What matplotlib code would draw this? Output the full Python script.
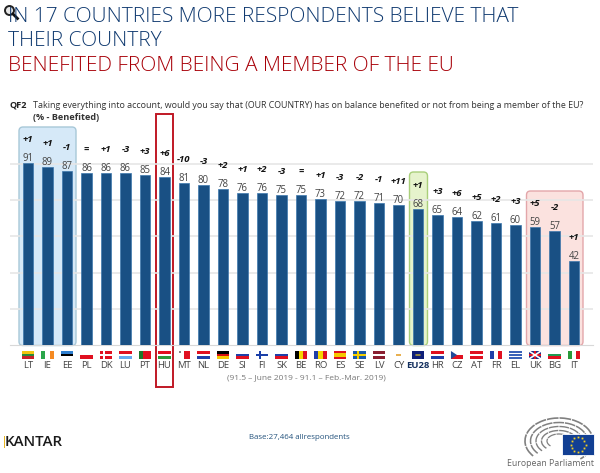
import matplotlib
matplotlib.use('Agg')
import matplotlib.pyplot as plt
from matplotlib.patches import FancyBboxPatch, Rectangle, Arc, Polygon, Circle
import numpy as np

plt.rcParams['font.family'] = ['Open Sans', 'DejaVu Sans']

countries = ['LT', 'IE', 'EE', 'PL', 'DK', 'LU', 'PT', 'HU', 'MT', 'NL', 'DE', 'SI', 'FI', 'SK', 'BE',
             'RO', 'ES', 'SE', 'LV', 'CY', 'EU28', 'HR', 'CZ', 'AT', 'FR', 'EL', 'UK', 'BG', 'IT']
benefited = [91, 89, 87, 86, 86, 86, 85, 84, 81, 80, 78, 76, 76, 75, 75,
             73, 72, 72, 71, 70, 68, 65, 64, 62, 61, 60, 59, 57, 42]
changes = ['+1', '+1', '-1', '=', '+1', '-3', '+3', '+6', '-10', '-3', '+2', '+1', '+2', '-3', '=',
           '+1', '-3', '-2', '-1', '+11', '+1', '+3', '+6', '+5', '+2', '+3', '+5', '-2', '+1']
grid_values = [18.1, 36.2, 54.3, 72.4, 90.5]

RED, WHITE, BLUE, GREEN = '#e01020', '#ffffff', '#1f3fa8', '#2a9a3a'
flags = {
    'LT': ('h', ['#f2c40f', '#2a8a3a', '#c8202a']), 'IE': ('v', ['#2aa64a', WHITE, '#f58a22']),
    'EE': ('h', ['#2f7fd0', '#000000', WHITE]), 'PL': ('h', [WHITE, RED]),
    'DK': ('h', [RED]), 'LU': ('h', [RED, WHITE, '#66aaee']), 'PT': ('v', ['#1a7a2a', RED, RED]),
    'HU': ('h', [RED, WHITE, GREEN]), 'MT': ('v', [WHITE, RED]), 'NL': ('h', [RED, WHITE, BLUE]),
    'DE': ('h', ['#000000', '#d81010', '#f5c800']), 'SI': ('h', [WHITE, BLUE, RED]),
    'FI': ('h', [WHITE]), 'SK': ('h', [WHITE, BLUE, RED]), 'BE': ('v', ['#000000', '#f5d800', RED]),
    'RO': ('v', [BLUE, '#f5d800', RED]), 'ES': ('h', [RED, '#f5c800', '#f5c800', RED]),
    'SE': ('h', ['#1a5aa8']), 'LV': ('h', ['#8a1f30', '#8a1f30', WHITE, '#8a1f30', '#8a1f30']),
    'CY': ('h', [WHITE]), 'EU28': ('h', ['#0f1f78']), 'HR': ('h', [RED, WHITE, BLUE]),
    'CZ': ('h', [WHITE, RED]), 'AT': ('h', [RED, WHITE, RED]), 'FR': ('v', [BLUE, WHITE, RED]),
    'EL': ('h', ['#3a62b8', WHITE, '#3a62b8', WHITE, '#3a62b8']), 'UK': ('h', ['#1f2f88']),
    'BG': ('h', [WHITE, '#1f9a50', RED]), 'IT': ('v', [GREEN, WHITE, RED]),
}
crosses = {'DK': WHITE, 'FI': '#1a3fa8', 'SE': '#f5d000'}

fig = plt.figure(figsize=(6, 4.73), dpi=100, facecolor='white')

# pixel coordinate layer for boxes and page furniture
bg = fig.add_axes([0, 0, 1, 1])
bg.set_xlim(0, 600)
bg.set_ylim(473, 0)
bg.axis('off')


def box(x0, y0, x1, y1, face, edge):
    bg.add_patch(FancyBboxPatch((x0 + 3, y0 + 3), x1 - x0 - 6, y1 - y0 - 6, boxstyle='round,pad=3,rounding_size=4',
                                fc=face, ec=edge, lw=1.0))


box(19, 127, 76, 345.5, '#d6e9f8', '#a8c8d8')
box(409.5, 172, 427.5, 345.5, '#e6f3cc', '#a9cf7a')
box(526.5, 191, 583, 345.5, '#fbe2df', '#e3a6aa')

# title block
bg.text(8, 22.5, 'IN 17 COUNTRIES MORE RESPONDENTS BELIEVE THAT', fontsize=15, color='#103a70', weight='light', va='baseline', ha='left')
bg.text(8, 46.5, 'THEIR COUNTRY', fontsize=15, color='#103a70', weight='light', va='baseline', ha='left')
bg.text(8, 71, 'BENEFITED FROM BEING A MEMBER OF THE EU', fontsize=15, color='#a80008', weight='light', va='baseline', ha='left')

# magnifier over the first letter
bg.add_patch(Rectangle((3, 3), 14, 18, fc='white', ec='none'))
bg.add_patch(Circle((9.5, 10.5), 4.5, fc='#e8e8e8', ec='#222222', lw=1.4))
bg.plot([13, 17.5], [14, 18.5], color='#111111', lw=2)

bg.text(9, 105, 'QF2', fontsize=6.6, weight='bold', color='#222222', va='center')
bg.text(33, 105, 'Taking everything into account, would you say that (OUR COUNTRY) has on balance benefited or not from being a member of the EU?',
        fontsize=6.37, color='#333333', va='center')
bg.text(33, 117, '(% - Benefited)', fontsize=6.6, weight='bold', color='#333333', va='center')

# bars
ax = fig.add_axes([10 / 600, (473 - 345) / 473, 583 / 600, 205 / 473], facecolor='none')
x = np.arange(len(countries))
ax.set_xlim((10 - 28) / 19.5, (593 - 28) / 19.5)
ax.set_ylim(0, 102.5)
ax.bar(x, benefited, width=0.55, color='#195084', edgecolor='#3d78ad', linewidth=0.5, zorder=3)
ax.set_yticks(grid_values)
ax.set_yticklabels([])
ax.grid(axis='y', color='#e6e6e6', lw=1.2, zorder=1)
ax.set_axisbelow(True)
for side in ['top', 'left', 'right']:
    ax.spines[side].set_visible(False)
ax.spines['bottom'].set_color('#d8d8d8')
ax.tick_params(axis='y', length=0)
ax.tick_params(axis='x', length=0, pad=11.8, labelsize=6.8, labelcolor='#444444')
ax.set_xticks(x)
ax.set_xticklabels(countries)
for lab, c in zip(ax.get_xticklabels(), countries):
    if c == 'EU28':
        lab.set_fontweight('bold')
        lab.set_color('#14305f')

for i, (v, d) in enumerate(zip(benefited, changes)):
    ax.annotate(str(v), (i, v), xytext=(0, 6), textcoords='offset pixels', ha='center', va='center_baseline',
                fontsize=6.9, color='#444444', zorder=5)
    ax.annotate(d, (i, v), xytext=(0, 23), textcoords='offset pixels', ha='center', va='center',
                fontsize=6.8, weight='bold', style='italic', color='#111111', zorder=5)

# flags under the axis, y given in data units (2 px per unit)
fw = 0.31
ftop, fbot = -3, -7
for i, c in enumerate(countries):
    kind, cols = flags[c]
    n = len(cols)
    for k, col in enumerate(cols):
        if kind == 'h':
            r = Rectangle((i - fw, ftop - (k + 1) * (ftop - fbot) / n), 2 * fw, (ftop - fbot) / n, fc=col, ec='none')
        else:
            r = Rectangle((i - fw + k * 2 * fw / n, fbot), 2 * fw / n, ftop - fbot, fc=col, ec='none')
        r.set_clip_on(False)
        ax.add_patch(r)
    if c in crosses:
        ax.add_patch(Rectangle((i - fw * 0.45, fbot), fw * 0.3, ftop - fbot, fc=crosses[c], ec='none', clip_on=False))
        ax.add_patch(Rectangle((i - fw, -5.35), 2 * fw, 0.7, fc=crosses[c], ec='none', clip_on=False))
    if c == 'CZ':
        ax.add_patch(Polygon([(i - fw, ftop), (i, -5), (i - fw, fbot)], fc='#1f4a9a', ec='none', clip_on=False))
    if c == 'UK':
        ax.plot([i - fw, i + fw], [fbot, ftop], color=WHITE, lw=1.2, clip_on=False)
        ax.plot([i - fw, i + fw], [ftop, fbot], color=WHITE, lw=1.2, clip_on=False)
        ax.add_patch(Rectangle((i - fw * 0.2, fbot), fw * 0.4, ftop - fbot, fc=RED, ec='none', clip_on=False))
        ax.add_patch(Rectangle((i - fw, -5.4), 2 * fw, 0.8, fc=RED, ec='none', clip_on=False))
    if c == 'CY':
        ax.add_patch(Rectangle((i - fw * 0.35, -5.6), fw * 0.7, 1.2, fc='#e8b050', ec='none', clip_on=False))
    if c == 'EU28':
        ax.add_patch(Circle((i, -5), 0.13, fc='none', ec='#c8b030', lw=0.5, clip_on=False))
    if c == 'MT':
        ax.add_patch(Rectangle((i - fw * 0.75, -3.8), fw * 0.25, 0.7, fc='#888888', ec='none', clip_on=False))

# HU highlight
bg.add_patch(Rectangle((155.5, 113.5), 17.5, 273.5, fc='none', ec='#c01825', lw=1.4, zorder=6))
bg.set_zorder(0)
ax.set_zorder(1)

bg.text(306.5, 378, '(91.5 \u2013 June 2019 - 91.1 \u2013 Feb.-Mar. 2019)', fontsize=6.0, color='#777777', ha='center', va='center')

# footer
bg.text(5, 441.5, 'KANTAR', fontsize=10.8, weight='semibold', color='#1a1a1a', va='center', ha='left')
bg.add_patch(Rectangle((4, 436), 1.2, 11.5, fc='#e6b422', ec='none', zorder=4))
bg.text(299, 437, 'Base:27,464 allrespondents', fontsize=5.7, color='#23527c', ha='center', va='center')

# parliament logo
for rx, ry, lw in [(34, 23, 1.2), (28.5, 18.5, 1.1), (23, 14.5, 1.0), (17.5, 10.5, 1.0), (12, 7, 0.9)]:
    bg.add_patch(Arc((559, 441), 2 * rx, 2 * ry, theta1=150, theta2=400, color='#808080', lw=lw, ls=(0, (7, 0.6))))
bg.add_patch(Rectangle((562, 434), 32, 21, fc='#123f93', ec='white', lw=0.6, zorder=5))
for t in np.arange(0, 360, 30):
    bg.plot(578 + 7.5 * np.cos(np.radians(t)), 444.5 + 7.5 * np.sin(np.radians(t)), 's', ms=1.3, color='#f5d020', zorder=6, mew=0)
bg.text(594, 463, 'European Parliament', fontsize=6.3, color='#666666', ha='right', va='center')

fig.savefig('out.png', dpi=100)
